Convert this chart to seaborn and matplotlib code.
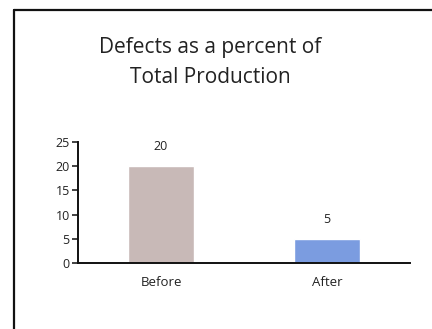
import matplotlib
matplotlib.use('Agg')
import matplotlib.pyplot as plt
import seaborn as sns
import pandas as pd
from matplotlib.lines import Line2D

# chart data
stages = ['Before', 'After']
defect_pct = [20, 5]
bar_colors = ['#c8b9b7', '#7b9ce0']
y_ticks = [0, 5, 10, 15, 20, 25]

sns.set_style('ticks')
plt.rcParams['font.family'] = ['Open Sans', 'DejaVu Sans']

df = pd.DataFrame({'stage': stages, 'pct': defect_pct})

fig = plt.figure(figsize=(4.32, 3.29), dpi=100)
ax = fig.add_axes([0.1806, 0.2006, 0.7685, 0.3678])

sns.barplot(data=df, x='stage', y='pct', hue='stage', palette=bar_colors,
            width=0.4, legend=False, saturation=1, ax=ax)

for i, v in enumerate(defect_pct):
    ax.annotate(str(v), (i, v), xytext=(0, 14), textcoords='offset points',
                ha='center', va='center', fontsize=9, color='#222222')

ax.set_xlim(-0.5, 1.5)
ax.set_ylim(0, 25)
ax.set_yticks(y_ticks)
ax.set_xlabel('')
ax.set_ylabel('')
ax.tick_params(axis='y', labelsize=9, length=4, width=1.2, colors='#222222', pad=2)
ax.tick_params(axis='x', labelsize=9.5, length=0, colors='#222222', pad=9)
sns.despine(ax=ax)
for s in ['left', 'bottom']:
    ax.spines[s].set_linewidth(1.4)
    ax.spines[s].set_color('#111111')
ax.spines['bottom'].set_bounds(-0.5, 1.5)

fig.text(0.486, 0.81, 'Defects as a percent of\nTotal Production', ha='center',
         va='center', fontsize=15, color='#222222', linespacing=1.6)

# frame lines around the slide
fig.add_artist(Line2D([0.0324, 1.0], [0.9696, 0.9696], color='#111111', lw=1.6,
                      transform=fig.transFigure))
fig.add_artist(Line2D([0.0324, 0.0324], [0.0, 0.9696], color='#111111', lw=1.6,
                      transform=fig.transFigure))

fig.savefig('out.png', dpi=100)
